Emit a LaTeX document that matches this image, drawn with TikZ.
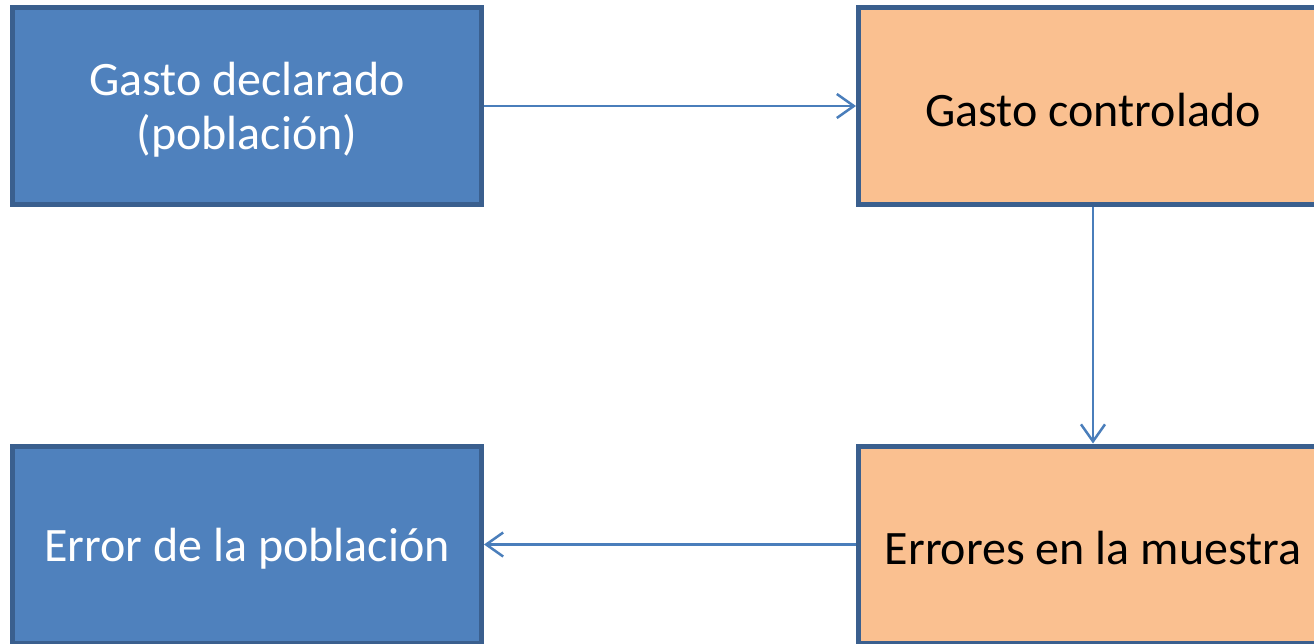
\documentclass[tikz,border=0pt]{standalone}
\usepackage{fontspec}
\setmainfont{Carlito}
\usetikzlibrary{arrows.meta}
\definecolor{bluefill}{HTML}{4F81BD}
\definecolor{boxline}{HTML}{3A5F8E}
\definecolor{orangefill}{HTML}{FAC090}
\definecolor{arrowcol}{HTML}{4A7EBB}
\begin{document}
\begin{tikzpicture}[x=1pt,y=-1pt,
  box/.style={draw=boxline,line width=5pt,minimum width=469pt,minimum height=197pt,inner sep=0pt},
  bluebox/.style={box,fill=bluefill},
  orangebox/.style={box,fill=orangefill},
  boxtext/.style={inner sep=0pt,align=center,font=\fontsize{48}{54}\selectfont,yshift=-4pt},
  conn/.style={draw=arrowcol,line width=2.5pt,-{Straight Barb[length=17pt,width=24pt,line width=2.5pt]}}]
\useasboundingbox (0,0) rectangle (1314,643);
\node[bluebox] (gd) at (247,106) {};
\node[orangebox] (gc) at (1093,106) {};
\node[orangebox] (em) at (1093,544.5) {};
\node[bluebox] (ep) at (247,544.5) {};
\node[boxtext,text=white] (gdt) at (gd.center) {Gasto declarado\\(población)};
\node[boxtext,text=black] (gct) at (gc.center) {Gasto controlado};
\node[boxtext,text=black] (emt) at (em.center) {Errores en la muestra};
\node[boxtext,text=white] (ept) at (ep.center) {Error de la población};
\draw[conn] (gd.east) -- (gc.west);
\draw[conn] (gc.south) -- (em.north);
\draw[conn] (em.west) -- (ep.east);
\end{tikzpicture}
\end{document}
